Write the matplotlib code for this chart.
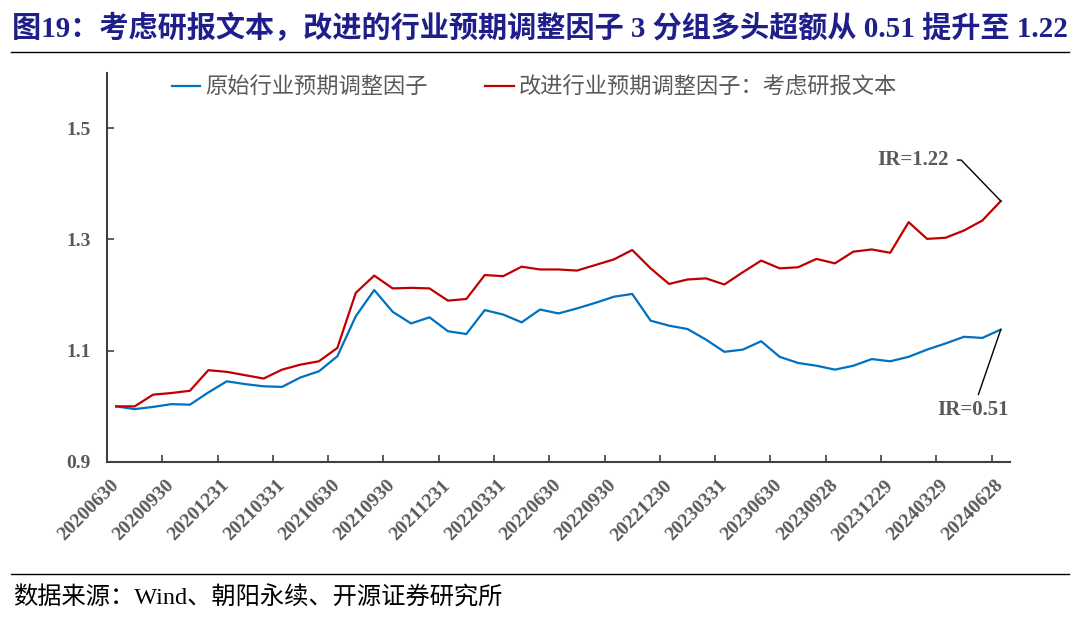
import numpy as np
import matplotlib
matplotlib.use("Agg")
import matplotlib.pyplot as plt
from matplotlib.lines import Line2D

# monthly month-end dates, 2020-06 .. 2024-06
dates = ['20200630', '20200731', '20200831', '20200930', '20201030', '20201130',
         '20201231', '20210129', '20210226', '20210331', '20210430', '20210531',
         '20210630', '20210730', '20210831', '20210930', '20211029', '20211130',
         '20211231', '20220128', '20220228', '20220331', '20220429', '20220531',
         '20220630', '20220729', '20220831', '20220930', '20221031', '20221130',
         '20221230', '20230131', '20230228', '20230331', '20230428', '20230531',
         '20230630', '20230731', '20230831', '20230928', '20231031', '20231130',
         '20231229', '20240131', '20240229', '20240329', '20240430', '20240531',
         '20240628']

orig_factor = [1.000, 0.995, 0.999, 1.004, 1.003, 1.025, 1.045, 1.040, 1.036, 1.035,
               1.052, 1.063, 1.090, 1.162, 1.209, 1.170, 1.149, 1.160, 1.135, 1.130,
               1.173, 1.165, 1.151, 1.174, 1.167, 1.176, 1.186, 1.197, 1.202, 1.154,
               1.145, 1.139, 1.120, 1.098, 1.102, 1.117, 1.089, 1.078, 1.073, 1.066,
               1.073, 1.085, 1.081, 1.089, 1.102, 1.113, 1.125, 1.123, 1.138]

new_factor = [1.000, 1.000, 1.021, 1.024, 1.028, 1.065, 1.062, 1.056, 1.050, 1.066,
              1.075, 1.081, 1.105, 1.204, 1.235, 1.212, 1.213, 1.212, 1.190, 1.193,
              1.236, 1.234, 1.251, 1.246, 1.246, 1.244, 1.254, 1.264, 1.281, 1.248,
              1.220, 1.228, 1.230, 1.219, 1.241, 1.262, 1.248, 1.250, 1.265, 1.257,
              1.278, 1.282, 1.276, 1.331, 1.301, 1.303, 1.316, 1.334, 1.369]

label_step = 3
yticks = [0.9, 1.1, 1.3, 1.5]
legend_labels = ['原始行业预期调整因子', '改进行业预期调整因子：考虑研报文本']
title = '图19：考虑研报文本，改进的行业预期调整因子 3 分组多头超额从 0.51 提升至 1.22'
source = '数据来源：Wind、朝阳永续、开源证券研究所'

serif_cjk = ['Liberation Serif', 'Noto Sans CJK SC']
gray = '#595959'
blue = '#0070C0'
red = '#C00000'

fig = plt.figure(figsize=(10.8, 6.22), dpi=100)
ax = fig.add_axes([107 / 1080, 1 - 462 / 622, 903 / 1080, (462 - 72.5) / 622])

x = np.arange(len(dates))
ax.plot(x, orig_factor, color=blue, lw=1.6, label=legend_labels[0])
ax.plot(x, new_factor, color=red, lw=1.6, label=legend_labels[1])

ax.set_xlim(-0.5, len(dates) - 0.5)
ax.set_ylim(0.9, 1.6)

# labels every 3rd category, tick marks on category boundaries
ax.set_xticks(x[::label_step])
ax.set_xticklabels([dates[i] for i in x[::label_step]], rotation=45,
                   ha='right', va='center', rotation_mode='anchor',
                   fontsize=14, fontweight='bold', family='Liberation Serif', color=gray)
ax.set_xticks(np.arange(label_step - 0.5, len(dates) - 0.5, label_step), minor=True)
ax.tick_params(axis='x', which='major', length=0, pad=15)
ax.tick_params(axis='x', which='minor', length=5, width=1.2, direction='in', color='#404040')

ax.set_yticks(yticks)
ax.set_yticklabels(['%.1f' % v for v in yticks], fontsize=14, fontweight='bold',
                   family='Liberation Serif', color=gray)
ax.tick_params(axis='y', length=5, width=1.2, direction='in', color='#404040', pad=12)

for side in ['top', 'right']:
    ax.spines[side].set_visible(False)
for side in ['left', 'bottom']:
    ax.spines[side].set_color('#404040')
    ax.spines[side].set_linewidth(1.5)

leg = ax.legend(loc='center', bbox_to_anchor=(0.473, 1 - (87 - 72.5) / 389.5), ncol=2,
                frameon=False, handlelength=1.3, handletextpad=0.2, columnspacing=2.6,
                borderpad=0, prop={'family': 'Noto Sans CJK SC', 'size': 16})
for t in leg.get_texts():
    t.set_color(gray)

# IR callouts
ax.annotate('IR=1.22', xy=(x[-1], new_factor[-1]), xytext=(-63, 29.5),
            textcoords='offset points', ha='center', va='center',
            fontsize=15, fontweight='bold', family='Liberation Serif', color=gray,
            arrowprops=dict(arrowstyle='-', color='black', lw=1.0, shrinkA=4, shrinkB=0,
                            connectionstyle='angle,angleA=0,angleB=-46,rad=0'))
ax.annotate('IR=0.51', xy=(x[-1], orig_factor[-1]), xytext=(-20, -58),
            textcoords='offset points', ha='center', va='center',
            fontsize=15, fontweight='bold', family='Liberation Serif', color=gray,
            arrowprops=dict(arrowstyle='-', color='black', lw=1.0, shrinkA=2, shrinkB=0))

# title, separator rules and source
fig.text(12 / 1080, 1 - 28 / 622, title, ha='left', va='center', fontsize=21,
         fontweight='bold', family=serif_cjk, color='#1F1F8C')
fig.add_artist(Line2D([11 / 1080, 1069 / 1080], [1 - 52 / 622, 1 - 52 / 622],
                      color='black', lw=1.0))
fig.add_artist(Line2D([11 / 1080, 1069 / 1080], [1 - 574 / 622, 1 - 574 / 622],
                      color='black', lw=1.0))
fig.text(13 / 1080, 1 - 598 / 622, source, ha='left', va='center', fontsize=17.5,
         family=serif_cjk, color='black')

fig.savefig('out.png', dpi=100)
